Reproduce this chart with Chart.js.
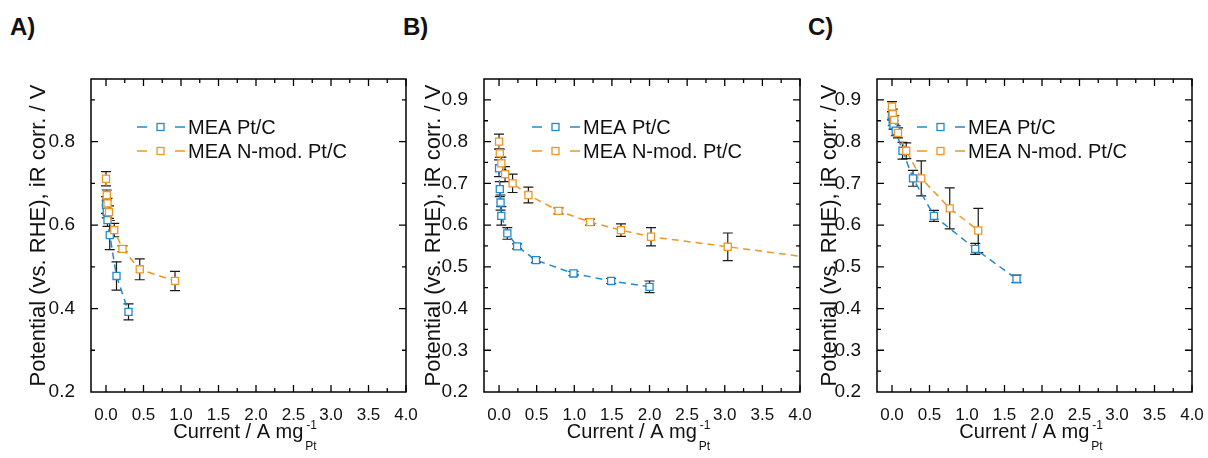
<!DOCTYPE html>
<html>
<head>
<meta charset="utf-8">
<script src="https://cdn.jsdelivr.net/npm/chart.js@4"></script>
<style>
body { margin: 0; background: #fff; width: 1208px; height: 458px; position: relative; overflow: hidden; }
canvas { position: absolute; top: 0; }
.tag { position: absolute; top: 13px; font: bold 24px "Liberation Sans", Arial, sans-serif; color: #111; }
</style>
</head>
<body>
<div class="tag" style="left:10px">A)</div>
<div class="tag" style="left:403px">B)</div>
<div class="tag" style="left:808px">C)</div>
<canvas id="chartA" style="left:0px" width="420" height="458"></canvas>
<canvas id="chartB" style="left:410px" width="410" height="458"></canvas>
<canvas id="chartC" style="left:800px" width="408" height="458"></canvas>
<script>
// tick labels
const xTicks = [0.0, 0.5, 1.0, 1.5, 2.0, 2.5, 3.0, 3.5, 4.0];
const xMinor = [0.25, 0.75, 1.25, 1.75, 2.25, 2.75, 3.25, 3.75];
const yTicksA = [0.2, 0.4, 0.6, 0.8];
const yMinorA = [0.3, 0.5, 0.7, 0.9];
const yTicksBC = [0.2, 0.3, 0.4, 0.5, 0.6, 0.7, 0.8, 0.9];
const yMinorBC = [0.25, 0.35, 0.45, 0.55, 0.65, 0.75, 0.85];
const seriesNames = ["MEA Pt/C", "MEA N-mod. Pt/C"];

// panel A
const aPtX = [0.00, 0.01, 0.02, 0.05, 0.14, 0.30];
const aPtY = [0.648, 0.632, 0.612, 0.576, 0.478, 0.392];
const aPtErr = [0.02, 0.015, 0.015, 0.035, 0.034, 0.019];
const aNX = [0.00, 0.01, 0.02, 0.04, 0.11, 0.22, 0.45, 0.92];
const aNY = [0.711, 0.672, 0.652, 0.631, 0.588, 0.543, 0.494, 0.466];
const aNErr = [0.017, 0.012, 0.012, 0.015, 0.016, 0.007, 0.025, 0.023];

// panel B
const bPtX = [0.00, 0.01, 0.02, 0.03, 0.11, 0.24, 0.49, 0.99, 1.49, 2.00];
const bPtY = [0.736, 0.686, 0.654, 0.622, 0.580, 0.549, 0.516, 0.484, 0.466, 0.452];
const bPtErr = [0.02, 0.018, 0.018, 0.022, 0.014, 0.006, 0.006, 0.005, 0.006, 0.014];
const bNX = [0.00, 0.01, 0.03, 0.08, 0.18, 0.39, 0.79, 1.21, 1.62, 2.02, 3.04, 4.40];
const bNY = [0.800, 0.772, 0.748, 0.722, 0.700, 0.672, 0.634, 0.607, 0.588, 0.572, 0.548, 0.516];
const bNErr = [0.018, 0.01, 0.015, 0.018, 0.022, 0.019, 0.007, 0.007, 0.015, 0.022, 0.033, 0.02];

// panel C
const cPtX = [0.00, 0.01, 0.02, 0.05, 0.14, 0.28, 0.56, 1.11, 1.66];
const cPtY = [0.862, 0.848, 0.840, 0.826, 0.778, 0.712, 0.622, 0.543, 0.471];
const cPtErr = [0.01, 0.01, 0.01, 0.012, 0.02, 0.019, 0.013, 0.013, 0.009];
const cNX = [0.00, 0.01, 0.03, 0.08, 0.19, 0.39, 0.77, 1.15];
const cNY = [0.884, 0.866, 0.852, 0.821, 0.778, 0.712, 0.640, 0.587];
const cNErr = [0.012, 0.012, 0.01, 0.012, 0.019, 0.042, 0.049, 0.053];

const BLUE = "rgb(32,138,208)";
const ORANGE = "rgb(240,150,36)";
const FONT = "'Liberation Sans', Arial, sans-serif";
const INK = "#111";

function points(xs, ys, es) {
    return xs.map((x, i) => ({ x: x, y: ys[i], e: es[i] }));
}

// error bars, frame, inward ticks, legend and x title
const panelPlugin = {
    id: "panel",
    beforeDatasetsDraw(chart) {
        const ctx = chart.ctx, xs = chart.scales.x, ys = chart.scales.y, a = chart.chartArea;
        ctx.save();
        ctx.beginPath();
        ctx.rect(a.left, a.top, a.right - a.left, a.bottom - a.top);
        ctx.clip();
        ctx.strokeStyle = "#1a1a1a";
        ctx.lineWidth = 1.2;
        chart.data.datasets.forEach(ds => {
            ds.data.forEach(p => {
                if (p.x > xs.max) return;
                const px = xs.getPixelForValue(p.x);
                const t = ys.getPixelForValue(p.y + p.e);
                const b = ys.getPixelForValue(p.y - p.e);
                ctx.beginPath();
                ctx.moveTo(px, t); ctx.lineTo(px, b);
                ctx.moveTo(px - 5, t); ctx.lineTo(px + 5, t);
                ctx.moveTo(px - 5, b); ctx.lineTo(px + 5, b);
                ctx.stroke();
            });
        });
        ctx.restore();
    },
    afterDraw(chart, args, opts) {
        const ctx = chart.ctx, xs = chart.scales.x, ys = chart.scales.y, a = chart.chartArea;
        ctx.save();
        ctx.strokeStyle = "#000";
        ctx.lineWidth = 1.5;
        ctx.strokeRect(a.left, a.top, a.right - a.left, a.bottom - a.top);

        ctx.lineWidth = 1.3;
        const xTick = (v, len) => {
            const px = xs.getPixelForValue(v);
            ctx.beginPath();
            ctx.moveTo(px, a.bottom); ctx.lineTo(px, a.bottom - len);
            ctx.moveTo(px, a.top); ctx.lineTo(px, a.top + len);
            ctx.stroke();
        };
        const yTick = (v, len) => {
            const py = ys.getPixelForValue(v);
            ctx.beginPath();
            ctx.moveTo(a.left, py); ctx.lineTo(a.left + len, py);
            ctx.moveTo(a.right, py); ctx.lineTo(a.right - len, py);
            ctx.stroke();
        };
        xTicks.forEach(v => xTick(v, 7));
        xMinor.forEach(v => xTick(v, 4));
        opts.yMajor.forEach(v => { if (v > ys.min) yTick(v, 7); });
        opts.yMinor.forEach(v => yTick(v, 4));

        // legend
        const colors = [BLUE, ORANGE];
        ctx.font = "20px " + FONT;
        ctx.textBaseline = "middle";
        seriesNames.forEach((name, r) => {
            const x0 = a.left + opts.legendDx;
            const y0 = a.top + 48 + r * 24;
            ctx.strokeStyle = colors[r];
            ctx.lineWidth = 1.5;
            ctx.beginPath();
            ctx.moveTo(x0, y0); ctx.lineTo(x0 + 10, y0);
            ctx.moveTo(x0 + 38, y0); ctx.lineTo(x0 + 48, y0);
            ctx.stroke();
            ctx.fillStyle = "#fff";
            ctx.fillRect(x0 + 20, y0 - 3.5, 7, 7);
            ctx.lineWidth = 1.3;
            ctx.strokeRect(x0 + 20, y0 - 3.5, 7, 7);
            ctx.fillStyle = INK;
            ctx.textAlign = "left";
            ctx.fillText(name, x0 + 51, y0 + 1);
        });

        // x axis title with stacked super/subscript
        const main = "Current / A mg";
        ctx.font = "20px " + FONT;
        const w1 = ctx.measureText(main).width;
        ctx.font = "12px " + FONT;
        const w2 = Math.max(ctx.measureText("-1").width, ctx.measureText("Pt").width);
        const x0 = (a.left + a.right) / 2 - 3.5 - (w1 + w2 + 2) / 2;
        ctx.textBaseline = "alphabetic";
        ctx.textAlign = "left";
        ctx.fillStyle = INK;
        ctx.font = "20px " + FONT;
        ctx.fillText(main, x0, 438);
        ctx.font = "12px " + FONT;
        ctx.fillText("-1", x0 + w1 + 3, 429);
        ctx.fillText("Pt", x0 + w1 + 2, 450);
        ctx.restore();
    }
};

function makePanel(id, ptData, nData, yMajor, yMinor, plotLeft, plotRight, canvasW, titlePad, legendDx) {
    return new Chart(document.getElementById(id), {
        type: "scatter",
        data: {
            datasets: [
                {
                    label: seriesNames[0],
                    data: ptData,
                    showLine: true,
                    order: 1,
                    borderColor: BLUE,
                    borderWidth: 1.5,
                    borderDash: [7, 5],
                    pointStyle: "rect",
                    pointRadius: 5,
                    pointBorderWidth: 1.3,
                    pointBorderColor: BLUE,
                    pointBackgroundColor: "#fff"
                },
                {
                    label: seriesNames[1],
                    data: nData,
                    showLine: true,
                    order: 0,
                    borderColor: ORANGE,
                    borderWidth: 1.5,
                    borderDash: [7, 5],
                    pointStyle: "rect",
                    pointRadius: 5,
                    pointBorderWidth: 1.3,
                    pointBorderColor: ORANGE,
                    pointBackgroundColor: "#fff"
                }
            ]
        },
        options: {
            responsive: false,
            animation: false,
            layout: { padding: { left: 0, right: canvasW - plotRight, top: 79, bottom: 0 } },
            plugins: {
                legend: { display: false },
                tooltip: { enabled: false },
                panel: { yMajor: yMajor, yMinor: yMinor, legendDx: legendDx }
            },
            scales: {
                x: {
                    type: "linear",
                    min: -0.2,
                    max: 4.0,
                    grid: { display: false },
                    border: { display: false },
                    ticks: {
                        padding: 5,
                        color: INK,
                        font: { family: FONT, size: 17 },
                        callback: v => v.toFixed(1)
                    },
                    afterBuildTicks: s => { s.ticks = xTicks.map(v => ({ value: v })); },
                    afterFit: s => { s.height = 66; s.paddingLeft = 0; s.paddingRight = 0; }
                },
                y: {
                    type: "linear",
                    min: 0.2,
                    max: 0.95,
                    grid: { display: false },
                    border: { display: false },
                    title: {
                        display: true,
                        text: "Potential (vs. RHE), iR corr. / V",
                        color: INK,
                        font: { family: FONT, size: 22 },
                        padding: { top: titlePad, bottom: 0 }
                    },
                    ticks: {
                        padding: 8,
                        color: INK,
                        font: { family: FONT, size: 19 },
                        callback: v => v.toFixed(1)
                    },
                    afterBuildTicks: s => { s.ticks = yMajor.map(v => ({ value: v })); },
                    afterFit: s => { s.width = plotLeft; s.paddingTop = 0; s.paddingBottom = 0; }
                }
            }
        },
        plugins: [panelPlugin]
    });
}

makePanel("chartA", points(aPtX, aPtY, aPtErr), points(aNX, aNY, aNErr),
    yTicksA, yMinorA, 91, 406, 420, 26, 46);
makePanel("chartB", points(bPtX, bPtY, bPtErr), points(bNX, bNY, bNErr),
    yTicksBC, yMinorBC, 74, 390, 410, 11, 48);
makePanel("chartC", points(cPtX, cPtY, cPtErr), points(cNX, cNY, cNErr),
    yTicksBC, yMinorBC, 77, 392, 408, 17, 40);
</script>
</body>
</html>
